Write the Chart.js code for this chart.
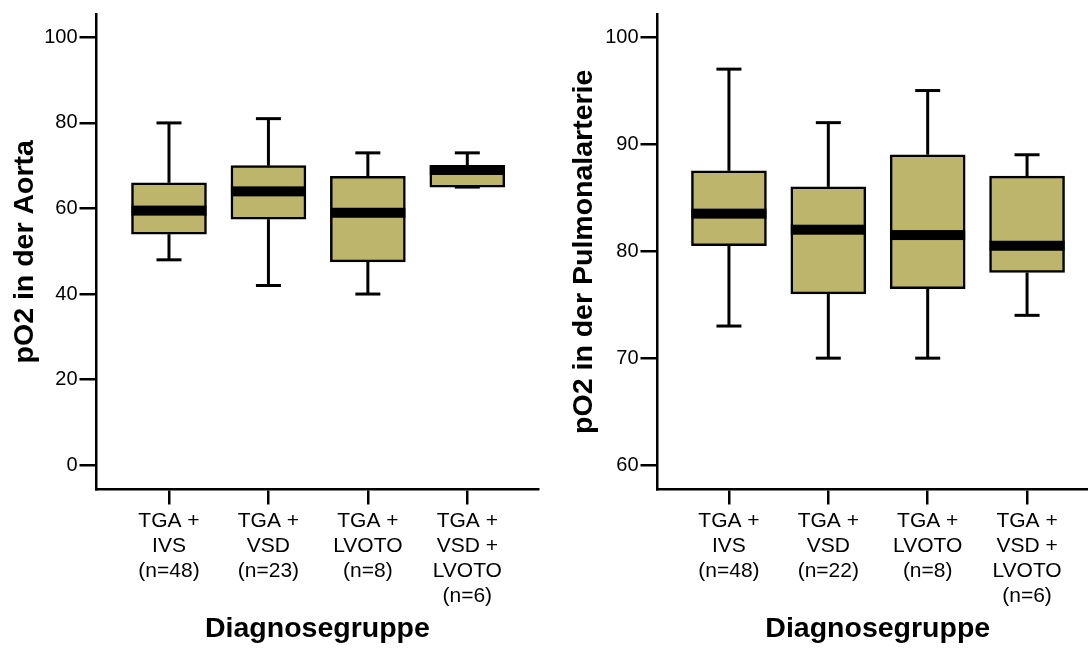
<!DOCTYPE html>
<html><head><meta charset="utf-8">
<script src="https://cdn.jsdelivr.net/npm/chart.js@4.4.1/dist/chart.umd.min.js"></script>
<style>
html,body{margin:0;padding:0;background:#fff;overflow:hidden;width:1088px;height:648px;}
canvas{position:absolute;top:0;}
#c1{left:0;} #c2{left:544px;}
</style></head><body>
<canvas id="c1" width="544" height="648"></canvas>
<canvas id="c2" width="560" height="648"></canvas>
<script>
// ---- Data ----
const aortaGroups = [['TGA +','IVS','(n=48)'],['TGA +','VSD','(n=23)'],['TGA +','LVOTO','(n=8)'],['TGA +','VSD +','LVOTO','(n=6)']];
const aortaMin    = [48, 42, 40, 65];
const aortaQ1     = [54, 57.5, 47.5, 65];
const aortaMedian = [59.5, 64, 59, 69];
const aortaQ3     = [66, 70, 67.5, 70];
const aortaMax    = [80, 81, 73, 73];
const aortaTicks  = [0, 20, 40, 60, 80, 100];

const paGroups = [['TGA +','IVS','(n=48)'],['TGA +','VSD','(n=22)'],['TGA +','LVOTO','(n=8)'],['TGA +','VSD +','LVOTO','(n=6)']];
const paMin    = [73, 70, 70, 74];
const paQ1     = [80.5, 76, 76.5, 78];
const paMedian = [83.5, 82, 81.5, 80.5];
const paQ3     = [87.5, 86, 89, 87];
const paMax    = [97, 92, 95, 89];
const paTicks  = [60, 70, 80, 90, 100];

const FONT = "'Liberation Sans', Arial, sans-serif";
const FILL = '#BDB56B';

const boxExtras = {
  id: 'boxExtras',
  beforeDatasetsDraw(chart, args, o) {
    const {ctx} = chart, xs = chart.scales.x, ys = chart.scales.y;
    ctx.save();
    ctx.strokeStyle = '#000'; ctx.lineWidth = o.lineWidth; ctx.lineCap = 'butt';
    o.min.forEach((mn, i) => {
      const x = xs.getPixelForValue(i);
      const segs = [[o.q3[i], o.max[i]], [o.q1[i], mn]];
      segs.forEach(([a, b]) => {
        const ya = ys.getPixelForValue(a), yb = ys.getPixelForValue(b);
        ctx.beginPath(); ctx.moveTo(x, ya); ctx.lineTo(x, yb); ctx.stroke();
        ctx.beginPath(); ctx.moveTo(x - o.capWidth/2, yb); ctx.lineTo(x + o.capWidth/2, yb); ctx.stroke();
      });
    });
    ctx.restore();
  },
  afterDatasetsDraw(chart, args, o) {
    const {ctx} = chart, xs = chart.scales.x, ys = chart.scales.y;
    ctx.save();
    ctx.fillStyle = '#000';
    o.median.forEach((m, i) => {
      const x = xs.getPixelForValue(i), y = ys.getPixelForValue(m);
      ctx.fillRect(x - o.boxWidth/2, y - o.medianHeight/2, o.boxWidth, o.medianHeight);
    });
    ctx.restore();
  }
};

function makeChart(id, p) {
  return new Chart(document.getElementById(id), {
    type: 'bar',
    data: {
      datasets: [{
        data: p.q1.map((q, i) => ({x: i, y: [q, p.q3[i]]})),
        backgroundColor: FILL,
        borderColor: '#000',
        borderWidth: 2.5,
        borderSkipped: false,
        barThickness: 75
      }]
    },
    options: {
      responsive: false,
      animation: false,
      events: [],
      layout: {padding: {top: 11, right: p.padRight, bottom: 0, left: p.padLeft}},
      plugins: {
        legend: {display: false},
        tooltip: {enabled: false},
        boxExtras: {min: p.min, q1: p.q1, median: p.median, q3: p.q3, max: p.max,
                    capWidth: 25, boxWidth: 75, lineWidth: 3, medianHeight: 10}
      },
      scales: {
        x: {
          type: 'linear',
          min: p.xMin, max: p.xMax,
          offset: false,
          afterBuildTicks: s => { s.ticks = p.groups.map((g, i) => ({value: i})); },
          afterFit: s => { s.height = 158.5; },
          ticks: {
            callback: v => p.groups[v],
            color: '#000', font: {family: FONT, size: 21, lineHeight: 1.19}, padding: 4,
            maxRotation: 0, autoSkip: false
          },
          grid: {offset: false, drawOnChartArea: false, drawTicks: true, tickLength: 15, color: '#000', lineWidth: 2.5},
          border: {display: true, color: '#000', width: 2.5},
          title: {display: true, text: 'Diagnosegruppe', color: '#000',
                  font: {family: FONT, size: 28.5, weight: 'bold'}, padding: {top: 0, bottom: 2}}
        },
        y: {
          type: 'linear',
          min: p.yMin, max: p.yMax,
          afterBuildTicks: s => { s.ticks = p.ticks.map(v => ({value: v})); },
          afterFit: s => { s.width = p.yWidth; },
          ticks: {color: '#000', font: {family: FONT, size: 20}, padding: 2},
          grid: {drawOnChartArea: false, drawTicks: true, tickLength: 17, color: '#000', lineWidth: 2.5},
          border: {display: true, color: '#000', width: 2.5},
          title: {display: true, text: p.yTitle, color: '#000',
                  font: {family: FONT, size: 28.5, weight: 'bold'}, padding: {top: 8, bottom: 0}}
        }
      }
    },
    plugins: [boxExtras]
  });
}

makeChart('c1', {
  groups: aortaGroups, min: aortaMin, q1: aortaQ1, median: aortaMedian, q3: aortaQ3, max: aortaMax,
  ticks: aortaTicks, yMin: -5.69, yMax: 105.46, xMin: -0.729, xMax: 3.714,
  yTitle: 'pO2 in der Aorta', padLeft: 0, padRight: 5.7, yWidth: 96.5
});
makeChart('c2', {
  groups: paGroups, min: paMin, q1: paQ1, median: paMedian, q3: paQ3, max: paMax,
  ticks: paTicks, yMin: 57.73, yMax: 102.15, xMin: -0.719, xMax: 3.714,
  yTitle: 'pO2 in der Pulmonalarterie', padLeft: 15, padRight: 6, yWidth: 98.5
});
</script>
</body></html>
